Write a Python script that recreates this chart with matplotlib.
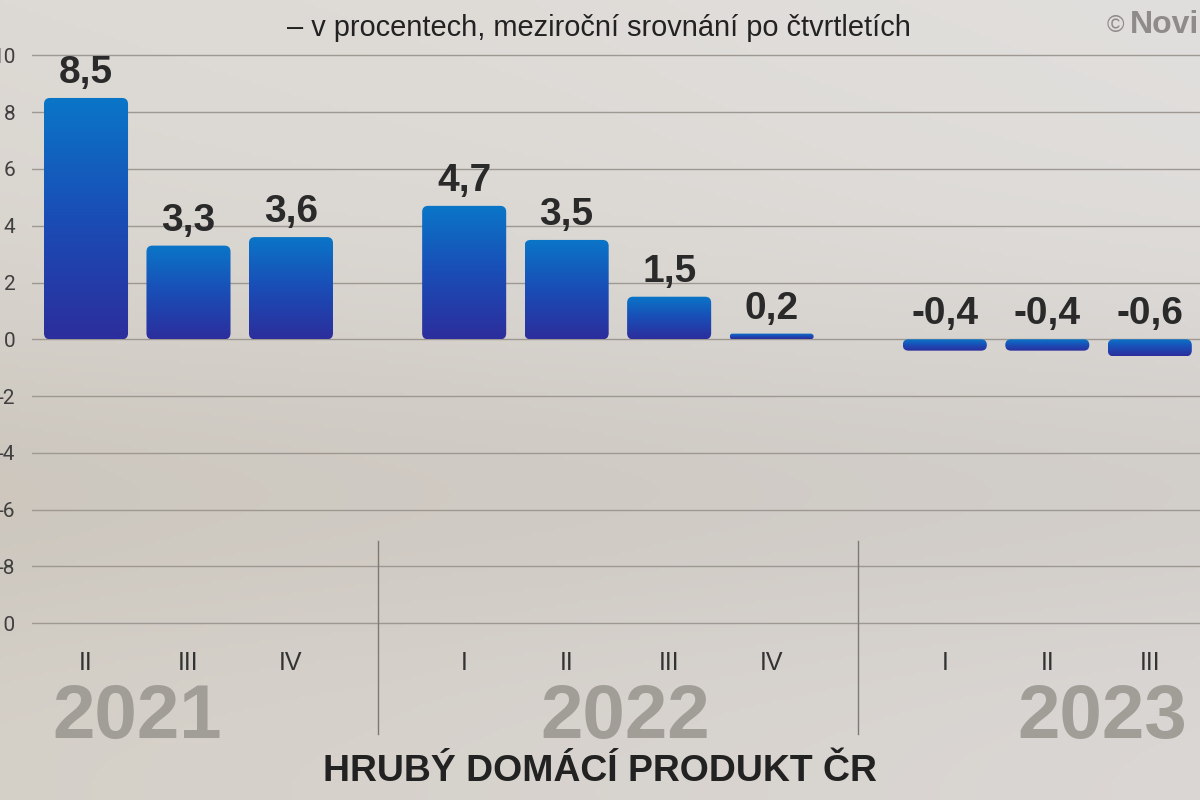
import numpy as np
import matplotlib
matplotlib.use("Agg")
import matplotlib.pyplot as plt
from matplotlib.patches import FancyBboxPatch
from matplotlib.colors import LinearSegmentedColormap
from matplotlib import font_manager

# data
years = ["2021", "2022", "2023"]
quarters = [["II", "III", "IV"], ["I", "II", "III", "IV"], ["I", "II", "III"]]
values = [[8.5, 3.3, 3.6], [4.7, 3.5, 1.5, 0.2], [-0.4, -0.4, -0.6]]
y_ticks = [10, 8, 6, 4, 2, 0, -2, -4, -6, -8, -10]

title = "HRUBÝ DOMÁCÍ PRODUKT ČR"
subtitle = "– v procentech, meziroční srovnání po čtvrtletích"

installed = {f.name for f in font_manager.fontManager.ttflist}
light = "Roboto" if "Roboto" in installed else "DejaVu Sans"
plt.rcParams["font.family"] = ["Liberation Sans", "DejaVu Sans"]

fig = plt.figure(figsize=(12, 8), dpi=100)

# background
bg = fig.add_axes([0, 0, 1, 1], zorder=-10)
bg.axis("off")
yy, xx = np.mgrid[0:1:200j, 0:1:300j]
tl = np.array([221, 217, 212]); tr = np.array([225, 223, 221])
bl = np.array([213, 208, 200]); br = np.array([219, 215, 213])
img = ((1 - xx)[..., None] * ((1 - yy)[..., None] * tl + yy[..., None] * bl)
       + xx[..., None] * ((1 - yy)[..., None] * tr + yy[..., None] * br))
mid = np.exp(-((yy - 0.6) ** 2) / 0.05)[..., None] * np.array([11, 12, 14])
img = np.clip(img - mid, 0, 255) / 255
bg.imshow(img, extent=(0, 1, 0, 1), aspect="auto", origin="upper")
bg.set_xlim(0, 1); bg.set_ylim(0, 1)

# main axes
ax = fig.add_axes([32 / 1200, 1 - 680 / 800, 1 - 32 / 1200, (680 - 27) / 800])
ax.patch.set_alpha(0)
ax.set_xlim(-0.527, 10.87)
ax.set_ylim(-12.0, 11.0)
for s in ax.spines.values():
    s.set_visible(False)
ax.set_xticks([])
ax.set_yticks(y_ticks)
ax.set_yticklabels([str(t) for t in y_ticks], fontsize=15, color="#404040",
                   family=[light, "DejaVu Sans"])
ax.tick_params(axis="y", length=0, pad=12)
ax.grid(axis="y", color="#9d9892", linewidth=1.0)
ax.set_axisbelow(True)

group_gap = 0.69
pos, vals, qlabels, group_pos = [], [], [], []
i = 0
for g, (qs, vs) in enumerate(zip(quarters, values)):
    gp = []
    for q, v in zip(qs, vs):
        p = i + g * group_gap
        pos.append(p); vals.append(v); qlabels.append(q); gp.append(p)
        i += 1
    group_pos.append(gp)

bars = ax.bar(pos, vals, width=0.82, color="none", zorder=2)

fig.canvas.draw()
p0 = ax.transData.transform((0, 0))
p1 = ax.transData.transform((1, 1))
px_x, px_y = p1[0] - p0[0], p1[1] - p0[1]
asp = px_x / px_y

cmap = LinearSegmentedColormap.from_list("bar", ["#2c2e9c", "#1a4db6", "#0a76c8"])
grad = np.linspace(0, 1, 256).reshape(-1, 1)
for b in bars:
    x0, w = b.get_x(), b.get_width()
    ylo = min(b.get_y(), b.get_y() + b.get_height())
    yhi = max(b.get_y(), b.get_y() + b.get_height())
    r = min(6 / px_x, w / 2, (yhi - ylo) / asp / 2)
    patch = FancyBboxPatch((x0, ylo), w, yhi - ylo,
                           boxstyle=f"round,pad=0,rounding_size={r}",
                           mutation_aspect=asp, fc="none", ec="none",
                           transform=ax.transData)
    ax.add_patch(patch)
    im = ax.imshow(grad, extent=(x0, x0 + w, ylo, yhi), cmap=cmap,
                   aspect="auto", origin="lower", zorder=3)
    im.set_clip_path(patch)

ax.set_xlim(-0.527, 10.87)
ax.set_ylim(-12.0, 11.0)

# value labels
for p, v in zip(pos, vals):
    ax.annotate(f"{v:.1f}".replace(".", ","), (p, max(v, 0)),
                xytext=(0, 10.8), textcoords="offset points",
                ha="center", va="baseline", fontsize=28, fontweight="bold",
                color="#2a2a2a", zorder=4)

# quarter labels
for p, q in zip(pos, qlabels):
    ax.text(p, -11.41, q, ha="center", va="center", fontsize=18,
            color="#333333", clip_on=False)

# separators between years
for a, b in zip(group_pos[:-1], group_pos[1:]):
    xm = (a[-1] + b[0]) / 2
    ax.plot([xm, xm], [-7.1, -13.9], color="#7d7a76", linewidth=1.0,
            clip_on=False, zorder=1)

# year labels
year_x = [0.5, 5.26, 9.92]
for xy, yr in zip(year_x, years):
    ax.text(xy, -14.05, yr, ha="center", va="baseline", fontsize=55,
            fontweight="bold", color="#a19d97", clip_on=False)


def fit_width(txt, width_px):
    r = fig.canvas.get_renderer()
    bb = txt.get_window_extent(r)
    txt.set_fontsize(txt.get_fontsize() * width_px / bb.width)


sub = fig.text(599 / 1200, 1 - 36 / 800, subtitle, ha="center", va="baseline",
               fontsize=20, color="#222222")
fit_width(sub, 622)
tt = fig.text(600 / 1200, 1 - 781 / 800, title, ha="center", va="baseline",
              fontsize=28, fontweight="bold", color="#222222")
fit_width(tt, 554)

fig.text(1107 / 1200, 1 - 32 / 800, "©", ha="left", va="baseline",
         fontsize=17, color="#8e8b88")
fig.text(1130 / 1200, 1 - 33 / 800, "Novinky.cz", ha="left", va="baseline",
         fontsize=23, fontweight="bold", color="#8e8b88")

fig.savefig("out.png", dpi=100)
